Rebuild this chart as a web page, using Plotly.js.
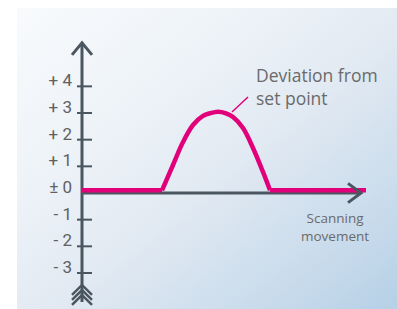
<!DOCTYPE html>
<html>
<head>
<meta charset="utf-8">
<script src="https://cdn.plot.ly/plotly-3.0.1.min.js"></script>
<style>
  html, body { margin: 0; padding: 0; background: #ffffff; }
  #wrap { position: relative; width: 397px; height: 309px; overflow: hidden; }
  #panel { position: absolute; left: 17px; top: 8px; width: 380px; height: 301px;
    background: linear-gradient(to bottom right, #f8fafc 0%, #eef3f8 30%, #e1e9f2 55%, #cadcec 80%, #b6d0e6 100%); }
  #chart { position: absolute; left: 0; top: 0; width: 397px; height: 309px; }
</style>
</head>
<body>
<div id="wrap"><div id="panel"></div><div id="chart"></div></div>
<script>
// ---- data ----
const scanPos   = [0, 80, 91, 101, 111, 121, 128, 136, 144, 151, 161, 171, 181, 188, 284];
const deviation = [0.1, 0.1, 1.05, 1.91, 2.55, 2.89, 2.99, 3.05, 2.99, 2.85, 2.44, 1.69, 0.79, 0.1, 0.1];
const yTickVals   = [4, 3, 2, 1, -1, -2, -3];
const yLabelVals  = [4, 3, 2, 1, 0, -1, -2, -3];
const yLabelTexts = ['+ 4', '+ 3', '+ 2', '+ 1', '± 0', '- 1', '- 2', '- 3'];
const leaderX = [150, 166];
const leaderY = [3.04, 3.6];

// ---- styling / geometry constants ----
const AXIS = '#4a5660', PINK = '#e2007a', TXT = '#6a6a6a';
const xEnd = 279, yTop = 5.63, yBot = -4.09;

const traces = [];
function seg(xs, ys, color, width, shape) {
  traces.push({x: xs, y: ys, mode: 'lines', type: 'scatter', hoverinfo: 'skip', showlegend: false,
    cliponaxis: false, line: {color: color, width: width, shape: shape || 'linear'}});
}
// vertical axis
seg([0, 0], [yBot, yTop], AXIS, 3);
// top arrow head
seg([-10, 0, 10], [yTop - 0.45, yTop, yTop - 0.45], AXIS, 3);
// fletching at the bottom
[-3.45, -3.64, -3.83].forEach(a => seg([-10, 0, 10], [a - 0.37, a, a - 0.37], AXIS, 2.5));
// tick marks
yTickVals.forEach(v => seg([-5, 10], [v, v], AXIS, 2));
// horizontal axis
seg([0, xEnd], [0, 0], AXIS, 3);
// deviation curve
seg(scanPos.slice(0, 2), deviation.slice(0, 2), PINK, 4.5);
seg(scanPos.slice(1, 14), deviation.slice(1, 14), PINK, 4.5, 'spline');
seg(scanPos.slice(13), deviation.slice(13), PINK, 4.5);
// leader line
seg(leaderX, leaderY, PINK, 1.5);
// right arrow head (on top)
seg([xEnd - 13, xEnd, xEnd - 13], [0.36, 0, -0.36], AXIS, 3);

const layout = {
  width: 397, height: 309,
  margin: {l: 0, r: 0, t: 0, b: 0, pad: 0},
  paper_bgcolor: 'rgba(0,0,0,0)', plot_bgcolor: 'rgba(0,0,0,0)',
  showlegend: false,
  xaxis: {range: [-82, 315], visible: false, fixedrange: true},
  yaxis: {range: [-4.351, 7.239], anchor: 'free', position: 82 / 397, showline: false,
    showgrid: false, zeroline: false, ticks: '', tickvals: yLabelVals, ticktext: yLabelTexts,
    ticklabelshift: -6, ticklabelstandoff: 10, automargin: false, fixedrange: true,
    tickfont: {family: 'Roboto, sans-serif', size: 17, color: '#606060'}},
  annotations: [
    {x: 172, y: 4.0, xref: 'x', yref: 'y', xanchor: 'left', yanchor: 'middle', align: 'left',
     showarrow: false, text: 'Deviation from<br>set point',
     font: {family: 'Open Sans, sans-serif', size: 17.5, color: TXT}},
    {x: 253, y: -1.26, xref: 'x', yref: 'y', xanchor: 'center', yanchor: 'middle', align: 'center',
     showarrow: false, text: 'Scanning<br>movement',
     font: {family: 'Open Sans, sans-serif', size: 13.5, color: TXT}}
  ]
};

Plotly.newPlot('chart', traces, layout, {staticPlot: true, displayModeBar: false});
</script>
</body>
</html>
